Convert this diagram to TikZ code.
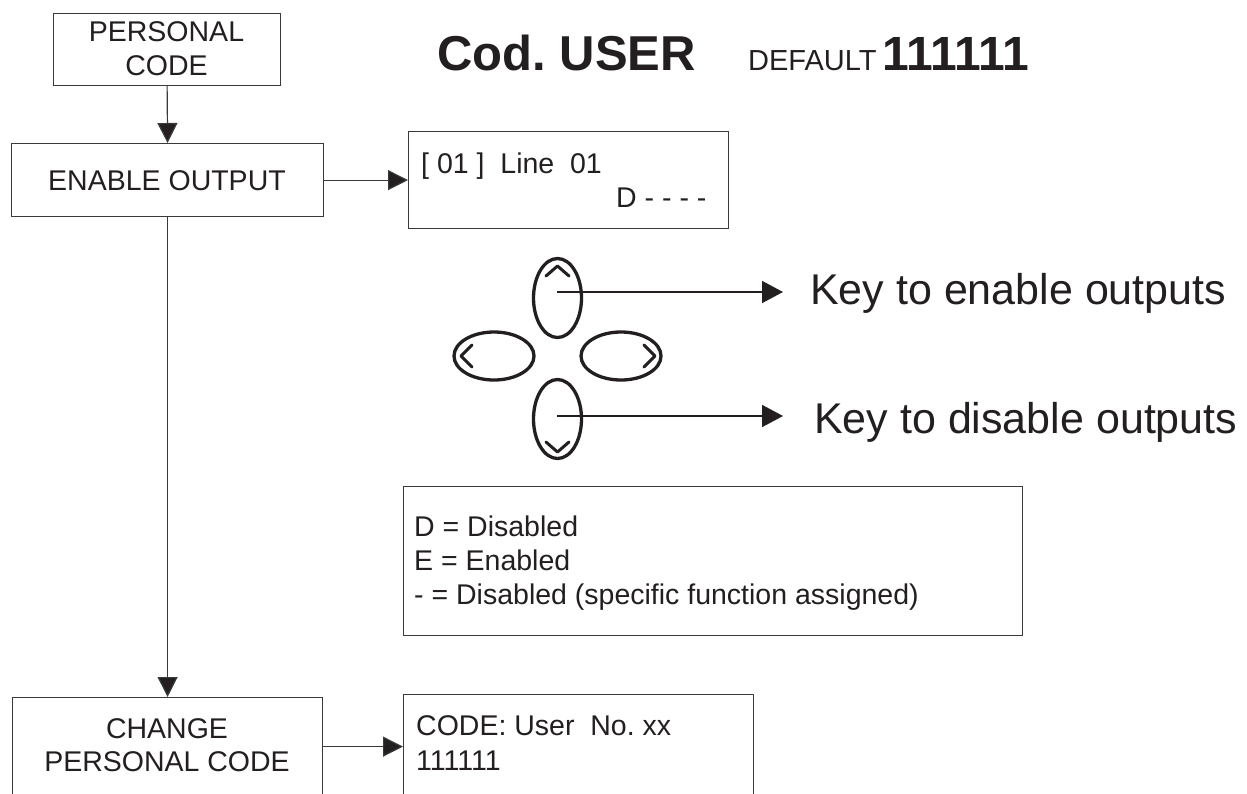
\documentclass[tikz,border=0pt]{standalone}
\usepackage{fontspec}
\setmainfont{Liberation Sans}
\usetikzlibrary{arrows.meta,shapes.geometric}
\definecolor{txtc}{HTML}{231F20}
\definecolor{linec}{HTML}{3A3A3A}
\frenchspacing
\tikzset{
  box/.style={draw=linec, line width=1.2pt, rectangle, inner sep=0pt, anchor=north west},
  txt/.style={inner sep=0pt, text=txtc, font=\fontsize{28.5}{34}\selectfont},
  conn/.style={draw=linec, line width=1.2pt, -{Triangle[length=20pt,width=20pt,fill=txtc]}},
  keyarrow/.style={draw=txtc, line width=1.5pt, -{Triangle[length=21pt,width=22pt,fill=txtc]}},
  keyv/.style={ellipse, draw=txtc, line width=3.3pt, minimum width=48pt, minimum height=79pt, inner sep=0pt},
  keyh/.style={ellipse, draw=txtc, line width=3.3pt, minimum width=80pt, minimum height=48pt, inner sep=0pt},
  chev/.style={draw=txtc, line width=3pt, line cap=round, line join=round},
  keytxt/.style={inner sep=0pt, text=txtc, font=\fontsize{43}{50}\selectfont, anchor=base west}
}
\begin{document}
\begin{tikzpicture}[x=1pt,y=-1pt]
\useasboundingbox (0,0) rectangle (1247,793);
\fill[white] (0,0) rectangle (1247,793);

% title
\node[inner sep=0pt, text=txtc, font=\fontsize{49}{56}\selectfont\bfseries, anchor=base west] (t1) at (437,70) {Cod. USER};
\node[inner sep=0pt, text=txtc, font=\fontsize{29}{34}\selectfont, anchor=base west] (t2) at (748,70) {DEFAULT};
\node[inner sep=0pt, text=txtc, font=\fontsize{48}{56}\selectfont\bfseries, anchor=base west] (t3) at (882,70) {111111};

% boxes
\node[box, minimum width=227pt, minimum height=72pt] (pc) at (53,13) {};
\node[txt, anchor=base] (pc1) at (166.5,41) {PERSONAL};
\node[txt, anchor=base] (pc2) at (166.5,75) {CODE};

\node[box, minimum width=312pt, minimum height=73pt] (eo) at (11,143) {};
\node[txt, anchor=base] (eo1) at (167,190) {ENABLE OUTPUT};

\node[box, minimum width=320pt, minimum height=97pt] (disp) at (408,131) {};
\node[txt, anchor=base west] (d1) at (421,173) {[ 01 ]\ \ Line\ \ 01};
\node[txt, anchor=base west] (d2) at (616,207) {D - - - -};

\node[box, minimum width=310pt, minimum height=98pt] (cpc) at (12,697) {};
\node[txt, anchor=base] (cp1) at (167,738) {CHANGE};
\node[txt, anchor=base] (cp2) at (167,771) {PERSONAL CODE};

\node[box, minimum width=350pt, minimum height=104pt] (code) at (403,694) {};
\node[txt, anchor=base west] (c1) at (416,735) {CODE: User\ \ No. xx};
\node[txt, anchor=base west] (c2) at (416,770) {111111};

\node[box, minimum width=619pt, minimum height=149pt] (leg) at (403,486) {};
\node[txt, anchor=base west] (l1) at (414,536) {D = Disabled};
\node[txt, anchor=base west] (l2) at (414,570) {E = Enabled};
\node[txt, anchor=base west] (l3) at (414,604) {- = Disabled (specific function assigned)};

% connectors
\draw[conn] (pc.south) -- (eo.north);
\draw[conn] (eo.east) -- (disp.west);
\draw[conn] (eo.south) -- (cpc.north);
\draw[conn] (cpc.east) -- (code.west);

% keys
\node[keyv] (kup) at (557.5,298) {};
\node[keyv] (kdn) at (557.5,419) {};
\node[keyh] (klt) at (494,356) {};
\node[keyh] (krt) at (621,356) {};
\draw[chev] (546,276) -- (557.5,266) -- (569,276);
\draw[chev] (546,442) -- (557.5,452) -- (569,442);
\draw[chev] (472,345) -- (461,356) -- (472,367);
\draw[chev] (644,345) -- (655,356) -- (644,367);

\coordinate (ka) at (557,292);
\coordinate (kb) at (783,292);
\coordinate (kc) at (557,416);
\coordinate (kd) at (783,416);
\draw[keyarrow] (ka) -- (kb);
\draw[keyarrow] (kc) -- (kd);
\node[keytxt] (ke) at (810,304) {Key to enable outputs};
\node[keytxt] (kdt) at (814,433) {Key to disable outputs};
\end{tikzpicture}
\end{document}
